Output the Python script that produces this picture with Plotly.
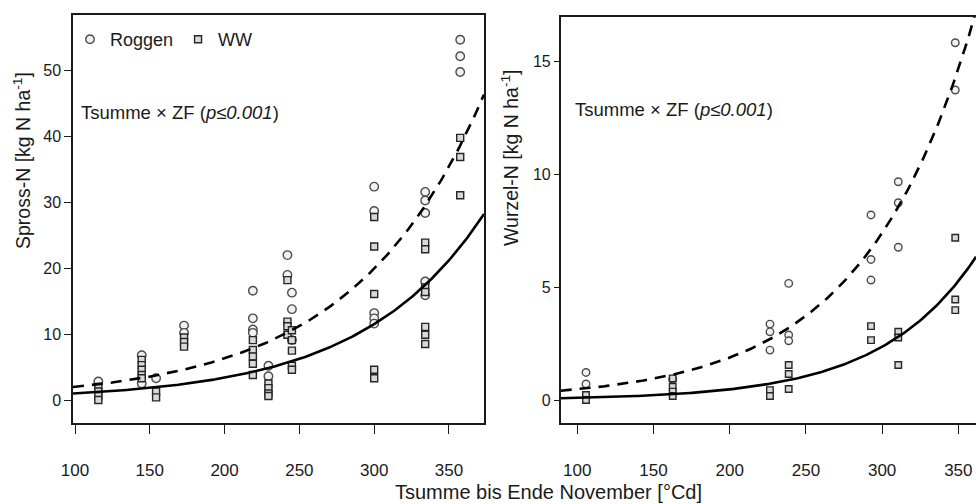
import numpy as np
import plotly.graph_objects as go

# ---------------- data: shoot N (left panel) ----------------
spross_roggen_T = [115.6, 144.6, 144.6, 154.2, 172.9, 172.9,
                   218.9, 218.9, 218.9, 218.9, 229.3, 229.3,
                   242, 242, 245, 245, 245,
                   300, 300, 300, 300, 300,
                   334.1, 334.1, 334.1, 334.1, 334.1,
                   357.5, 357.5, 357.5]
spross_roggen_N = [2.8, 6.8, 2.5, 3.3, 11.3, 10.2,
                   16.6, 12.4, 10.7, 10.2, 5.2, 3.6,
                   22.0, 19.0, 16.3, 13.8, 9.1,
                   32.4, 28.7, 13.2, 12.4, 11.6,
                   31.6, 30.3, 28.4, 18.0, 15.9,
                   54.7, 52.2, 49.8]
spross_ww_T = [115.6, 115.6, 115.6, 115.6,
               144.6, 144.6, 144.6, 144.6, 144.6,
               154.2, 154.2, 172.9, 172.9, 172.9,
               218.9, 218.9, 218.9, 218.9, 218.9,
               229.3, 229.3, 229.3, 229.3,
               242, 242, 242, 242,
               245, 245, 245, 245, 245,
               300, 300, 300, 300, 300,
               334.1, 334.1, 334.1, 334.1, 334.1, 334.1, 334.1,
               357.5, 357.5, 357.5]
spross_ww_N = [2.0, 1.3, 0.6, 0.0,
               6.1, 5.3, 4.6, 3.8, 3.3,
               1.3, 0.4, 9.5, 8.8, 8.1,
               9.1, 7.6, 6.6, 5.5, 3.8,
               2.5, 1.8, 1.0, 0.6,
               18.2, 11.9, 11.2, 9.9,
               10.6, 9.1, 7.5, 5.2, 4.6,
               27.8, 23.3, 16.1, 4.6, 3.3,
               23.9, 22.9, 17.1, 16.4, 11.1, 9.9, 8.5,
               39.8, 36.9, 31.1]

# ---------------- data: root N (right panel) ----------------
wurzel_roggen_T = [105.7, 105.7, 162.6, 226.4, 226.4, 226.4,
                   238.7, 238.7, 238.7, 292.7, 292.7, 292.7,
                   310.6, 310.6, 310.6, 348, 348]
wurzel_roggen_N = [1.22, 0.71, 0.92, 3.36, 3.02, 2.21,
                   5.16, 2.88, 2.62, 8.19, 6.22, 5.31,
                   9.66, 8.73, 6.76, 15.81, 13.72]
wurzel_ww_T = [105.7, 105.7, 162.6, 162.6, 162.6, 162.6,
               226.4, 226.4, 238.7, 238.7, 238.7,
               292.7, 292.7, 310.6, 310.6, 310.6,
               348, 348, 348]
wurzel_ww_N = [0.22, 0.0, 0.96, 0.59, 0.37, 0.18,
               0.44, 0.18, 1.55, 1.15, 0.49,
               3.27, 2.65, 3.02, 2.77, 1.55,
               7.18, 4.45, 3.98]

# exponential fits  N = N100 * exp(b * (T - 100))
fit_spross_roggen = (2.0, 0.0115)
fit_spross_ww = (1.0, 0.01222)
fit_wurzel_roggen = (0.477, 0.0137)
fit_wurzel_ww = (0.0949, 0.01606)

x_ticks = [100, 150, 200, 250, 300, 350]
y_ticks_spross = [0, 10, 20, 30, 40, 50]
y_ticks_wurzel = [0, 5, 10, 15]

x_range_left = [98.66, 373.4]
x_range_right = [89.1, 361.6]


def fit_curve(params, rng):
    t = np.linspace(rng[0], rng[1], 200)
    return t, params[0] * np.exp(params[1] * (t - 100))


TXT = "#1a1a1a"
FONT = "Liberation Sans, Arial, sans-serif"

circ = dict(symbol="circle", size=8.5, color="#f2f2f2",
            line=dict(color="#4d4d4d", width=1.4))
sq = dict(symbol="square", size=7, color="#d9d9d9",
          line=dict(color="#262626", width=1.4))
circ_r = dict(circ, size=7.5)
sq_r = dict(sq, size=6.5)

fig = go.Figure()

# left panel
fig.add_trace(go.Scatter(x=spross_roggen_T, y=spross_roggen_N, mode="markers",
                         marker=circ, name="Roggen", xaxis="x", yaxis="y"))
fig.add_trace(go.Scatter(x=spross_ww_T, y=spross_ww_N, mode="markers",
                         marker=sq, name="WW", xaxis="x", yaxis="y"))
t, v = fit_curve(fit_spross_roggen, x_range_left)
fig.add_trace(go.Scatter(x=t, y=v, mode="lines", showlegend=False,
                         line=dict(color="black", width=2.6, dash="11px,8px"),
                         xaxis="x", yaxis="y"))
t, v = fit_curve(fit_spross_ww, x_range_left)
fig.add_trace(go.Scatter(x=t, y=v, mode="lines", showlegend=False,
                         line=dict(color="black", width=2.6),
                         xaxis="x", yaxis="y"))

# right panel
fig.add_trace(go.Scatter(x=wurzel_roggen_T, y=wurzel_roggen_N, mode="markers",
                         marker=circ_r, showlegend=False, xaxis="x2", yaxis="y2"))
fig.add_trace(go.Scatter(x=wurzel_ww_T, y=wurzel_ww_N, mode="markers",
                         marker=sq_r, showlegend=False, xaxis="x2", yaxis="y2"))
t, v = fit_curve(fit_wurzel_roggen, [x_range_right[0], x_range_right[1] + 5])
fig.add_trace(go.Scatter(x=t, y=v, mode="lines", showlegend=False,
                         line=dict(color="black", width=2.6, dash="11px,8px"),
                         xaxis="x2", yaxis="y2"))
t, v = fit_curve(fit_wurzel_ww, x_range_right)
fig.add_trace(go.Scatter(x=t, y=v, mode="lines", showlegend=False,
                         line=dict(color="black", width=2.6),
                         xaxis="x2", yaxis="y2"))

W, H = 976, 504
axis_common = dict(showgrid=False, zeroline=False, showline=True,
                   linecolor="#1a1a1a", linewidth=1.5, ticks="outside",
                   tickcolor="#1a1a1a", tickwidth=1.3, automargin=False,
                   tickfont=dict(size=16, color=TXT, family=FONT))
xtickfont = dict(size=17, color=TXT, family=FONT)

fig.update_layout(
    width=W, height=H, autosize=False,
    margin=dict(l=0, r=0, t=0, b=0, pad=0),
    paper_bgcolor="white", plot_bgcolor="white",
    font=dict(family=FONT, color=TXT),
    xaxis=dict(axis_common, domain=[73 / W, 484 / W], range=x_range_left,
               tickvals=x_ticks, ticklen=9, mirror=True, anchor="y",
               ticklabelstandoff=22, tickfont=xtickfont),
    yaxis=dict(axis_common, domain=[(H - 423) / H, (H - 15) / H],
               range=[-3.49, 58.46], tickvals=y_ticks_spross, ticklen=7,
               mirror=True, anchor="x"),
    xaxis2=dict(axis_common, domain=[560.7 / W, 1.0], range=x_range_right,
                tickvals=x_ticks, ticklen=9, mirror=True, anchor="y2",
                ticklabelstandoff=22, tickfont=xtickfont),
    yaxis2=dict(axis_common, domain=[(H - 423.3) / H, (H - 17) / H],
                range=[-1.03, 16.95], tickvals=y_ticks_wurzel, ticklen=5,
                mirror=False, anchor="x2"),
    legend=dict(orientation="h", x=70 / W, y=1 - 21 / H, xanchor="left",
                yanchor="top", bgcolor="rgba(0,0,0,0)",
                font=dict(size=18, color=TXT, family=FONT),
                itemwidth=30, tracegroupgap=0),
    showlegend=True,
)

ann_font = dict(size=18.5, color=TXT, family=FONT)
fig.add_annotation(text="Tsumme × ZF (<i>p≤0.001</i>)", xref="paper", yref="paper",
                   x=79 / W, y=1 - 112 / H, xanchor="left", yanchor="middle",
                   showarrow=False, font=ann_font)
fig.add_annotation(text="Tsumme × ZF (<i>p≤0.001</i>)", xref="paper", yref="paper",
                   x=573 / W, y=1 - 109 / H, xanchor="left", yanchor="middle",
                   showarrow=False, font=ann_font)
fig.add_annotation(text="Spross-N [kg N ha<sup>-1</sup>]", xref="paper", yref="paper",
                   x=22 / W, y=1 - 161 / H, xanchor="center", yanchor="middle",
                   textangle=-90, showarrow=False, font=dict(size=19.5, color=TXT, family=FONT))
fig.add_annotation(text="Wurzel-N [kg N ha<sup>-1</sup>]", xref="paper", yref="paper",
                   x=510 / W, y=1 - 158 / H, xanchor="center", yanchor="middle",
                   textangle=-90, showarrow=False, font=dict(size=19.5, color=TXT, family=FONT))
fig.add_annotation(text="Tsumme bis Ende November [°Cd]", xref="paper", yref="paper",
                   x=548 / W, y=1 - 492 / H, xanchor="center", yanchor="middle",
                   showarrow=False, font=dict(size=20, color=TXT, family=FONT))

fig.write_html("out.html", config={"displayModeBar": False},
               post_script="document.body.style.margin='0';document.body.style.overflow='hidden';")
